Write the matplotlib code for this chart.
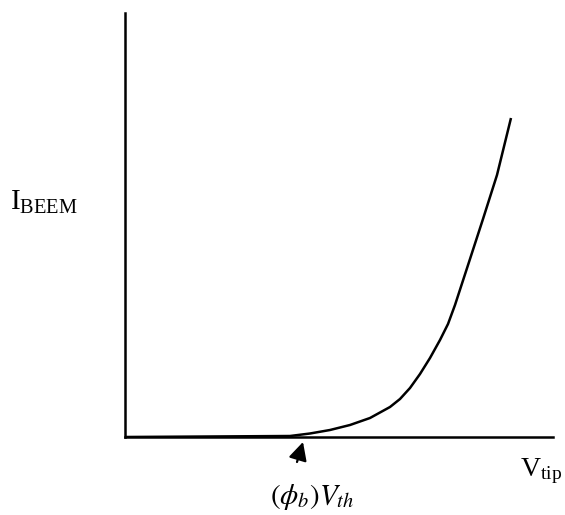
import numpy as np
import matplotlib.pyplot as plt

plt.rcParams['mathtext.fontset'] = 'stix'
plt.rcParams['font.family'] = 'Liberation Serif'

# sketch of BEEM current vs tip bias (arbitrary units)
v_tip = [0.0, 1.65, 1.85, 2.05, 2.25, 2.45, 2.65, 2.75, 2.85, 2.95, 3.05,
         3.15, 3.23, 3.30, 3.45, 3.58, 3.72, 3.86]
i_beem = [0.0, 0.01, 0.035, 0.07, 0.12, 0.19, 0.30, 0.38, 0.49, 0.63, 0.79,
          0.97, 1.13, 1.32, 1.78, 2.18, 2.62, 3.19]
v_th = 1.75

fig = plt.figure(figsize=(5.65, 5.15), dpi=100)
ax = fig.add_axes([125 / 565, 78 / 515, 428 / 565, 424 / 515])
ax.plot(v_tip, i_beem, color='black', lw=1.8, solid_capstyle='butt')
ax.set_xlim(0, 4.28)
ax.set_ylim(0, 4.24)

for s in ['top', 'right']:
    ax.spines[s].set_visible(False)
for s in ['left', 'bottom']:
    ax.spines[s].set_linewidth(1.8)
ax.set_xticks([])
ax.set_yticks([])

# threshold marker
ax.annotate('', xy=(v_th + 0.03, -0.05), xytext=(v_th - 0.03, -0.25),
            annotation_clip=False,
            arrowprops=dict(arrowstyle='-|>,head_length=0.55,head_width=0.28',
                            color='black', lw=1.6, mutation_scale=20,
                            shrinkA=0, shrinkB=0))

fig.text(312 / 565, 1 - 497 / 515, r'$\left(\phi_b\right)V_{th}$', fontsize=21,
         ha='center', va='center')
fig.text(541 / 565, 1 - 471 / 515, r'$\mathregular{V_{tip}}$', fontsize=20,
         ha='center', va='center')
fig.text(44 / 565, 1 - 202 / 515, r'$\mathregular{I_{BEEM}}$', fontsize=21,
         ha='center', va='center')

fig.savefig('out.png', dpi=100)
